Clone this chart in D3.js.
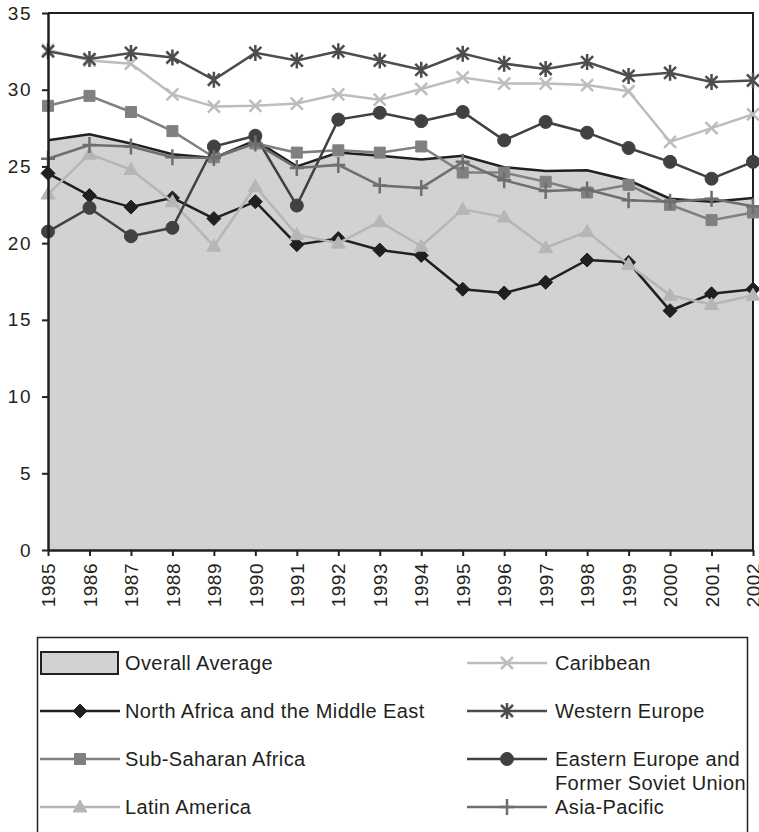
<!DOCTYPE html>
<html>
<head>
<meta charset="utf-8">
<script src="https://cdn.jsdelivr.net/npm/d3@7"></script>
<style>
  body { margin: 0; background: #fff; }
  svg { font-family: "Liberation Sans", Arial, sans-serif; }
</style>
</head>
<body>
<div class="container"></div>
<script>
const years = [1985, 1986, 1987, 1988, 1989, 1990, 1991, 1992, 1993, 1994, 1995, 1996, 1997, 1998, 1999, 2000, 2001, 2002];
const yTicks = [0, 5, 10, 15, 20, 25, 30, 35];

const overallAverage = [26.7, 27.1, 26.5, 25.8, 25.55, 26.7, 25.0, 25.9, 25.7, 25.45, 25.7, 24.95, 24.7, 24.75, 24.1, 22.9, 22.7, 22.95];
const northAfrica = [24.55, 23.1, 22.35, 22.95, 21.6, 22.7, 19.9, 20.3, 19.55, 19.2, 17.0, 16.75, 17.45, 18.9, 18.75, 15.6, 16.7, 17.0];
const subSaharan = [28.95, 29.6, 28.55, 27.3, 25.6, 26.5, 25.9, 26.05, 25.9, 26.3, 24.6, 24.6, 24.0, 23.3, 23.8, 22.5, 21.5, 22.0];
const latinAmerica = [23.2, 25.8, 24.8, 22.7, 19.8, 23.7, 20.55, 20.0, 21.4, 19.8, 22.2, 21.7, 19.7, 20.75, 18.6, 16.6, 16.0, 16.6];
const caribbean = [32.6, 31.9, 31.7, 29.7, 28.9, 28.95, 29.1, 29.7, 29.35, 30.05, 30.8, 30.4, 30.4, 30.3, 29.9, 26.6, 27.5, 28.4];
const westernEurope = [32.5, 32.0, 32.4, 32.1, 30.65, 32.4, 31.9, 32.5, 31.9, 31.3, 32.35, 31.7, 31.35, 31.8, 30.9, 31.1, 30.5, 30.6];
const easternEurope = [20.75, 22.3, 20.45, 21.0, 26.3, 27.0, 22.45, 28.05, 28.5, 27.95, 28.55, 26.7, 27.9, 27.2, 26.2, 25.3, 24.2, 25.3];
const asiaPacific = [25.5, 26.4, 26.3, 25.6, 25.55, 26.5, 24.9, 25.1, 23.75, 23.6, 25.3, 24.1, 23.4, 23.5, 22.8, 22.7, 22.9, 22.4];

const width = 759;
const height = 832;

const leftPadding = 48;
const rightPadding = 5;
const topPadding = 13;
const bottomPadding = 282;

const ink = '#231f20';

// marker shapes, drawn around 0,0
const marker = {
  diamond: 'M0,-7L7,0L0,7L-7,0Z',
  square: 'M-5.5,-5.5H5.5V5.5H-5.5Z',
  triangle: 'M0,-7L7,5H-7Z',
  circle: 'M6.5,0A6.5,6.5 0 1,1 -6.5,0A6.5,6.5 0 1,1 6.5,0Z',
  x: 'M-6,-6L6,6M-6,6L6,-6',
  star: 'M-6,-6L6,6M-6,6L6,-6M0,-8V8',
  plus: 'M-7,0H7M0,-8V8',
};

const series = [
  { name: 'North Africa and the Middle East', values: northAfrica, color: ink, shape: 'diamond', filled: true },
  { name: 'Sub-Saharan Africa', values: subSaharan, color: '#808082', shape: 'square', filled: true },
  { name: 'Latin America', values: latinAmerica, color: '#b5b6b8', shape: 'triangle', filled: true },
  { name: 'Caribbean', values: caribbean, color: '#bcbdbf', shape: 'x', filled: false },
  { name: 'Western Europe', values: westernEurope, color: '#4d4d4f', shape: 'star', filled: false },
  { name: 'Eastern Europe and|Former Soviet Union', values: easternEurope, color: '#414042', shape: 'circle', filled: true },
  { name: 'Asia-Pacific', values: asiaPacific, color: '#6d6e70', shape: 'plus', filled: false },
];

const x = d3.scaleLinear()
  .domain([d3.min(years), d3.max(years)])
  .range([leftPadding, width - rightPadding - 1]);
const y = d3.scaleLinear()
  .domain([0, 35])
  .range([height - bottomPadding, topPadding]);

const svg = d3.select('.container')
  .append('svg')
  .attr('width', width)
  .attr('height', height);

const area = d3.area()
  .x((d, i) => x(years[i]))
  .y0(y(0))
  .y1((d) => y(d));

const line = d3.line()
  .x((d, i) => x(years[i]))
  .y((d) => y(d));

svg.append('path')
  .datum(overallAverage)
  .attr('d', area)
  .attr('fill', '#d1d2d4');

svg.append('path')
  .datum(overallAverage)
  .attr('d', line)
  .attr('fill', 'none')
  .attr('stroke', ink)
  .attr('stroke-width', 2.5);

// frame top and right
svg.append('path')
  .attr('d', `M${x(1985)},${y(35)}H${x(2002)}V${y(0)}`)
  .attr('fill', 'none')
  .attr('stroke', ink)
  .attr('stroke-width', 2);

series.forEach((s) => {
  const g = svg.append('g');
  g.append('path')
    .datum(s.values)
    .attr('d', line)
    .attr('fill', 'none')
    .attr('stroke', s.color)
    .attr('stroke-width', 2.5);
  g.selectAll('path.mark')
    .data(s.values)
    .enter()
    .append('path')
    .attr('class', 'mark')
    .attr('d', marker[s.shape])
    .attr('transform', (d, i) => `translate(${x(years[i])},${y(d)})`)
    .attr('fill', s.filled ? s.color : 'none')
    .attr('stroke', s.color)
    .attr('stroke-width', s.filled ? 1 : 2.5);
});

const yAxis = d3.axisLeft(y).tickValues(yTicks).tickSize(6).tickPadding(10).tickSizeOuter(0);
const xAxis = d3.axisBottom(x).tickValues(years).tickFormat(d3.format('d')).tickSize(6).tickSizeOuter(0);

const gy = svg.append('g')
  .attr('transform', `translate(${leftPadding}, 0)`)
  .call(yAxis);

const gx = svg.append('g')
  .attr('transform', `translate(0, ${y(0)})`)
  .call(xAxis);

[gy, gx].forEach((g) => {
  g.select('.domain').attr('stroke', ink).attr('stroke-width', 2.5);
  g.selectAll('.tick line').attr('stroke', ink).attr('stroke-width', 2);
  g.selectAll('.tick text').attr('fill', ink).style('font-family', '"Liberation Sans", Arial, sans-serif');
});

gy.selectAll('.tick text')
  .style('font-size', '19px')
  .style('letter-spacing', '1.5px');

gx.selectAll('.tick text')
  .attr('transform', 'rotate(-90)')
  .attr('x', -13)
  .attr('y', 0)
  .attr('dy', '0.35em')
  .style('font-size', '19px')
  .style('letter-spacing', '0.5px')
  .style('text-anchor', 'end');

// legend
const legend = svg.append('g');
legend.append('rect')
  .attr('x', 37.5)
  .attr('y', 637.5)
  .attr('width', 710)
  .attr('height', 220)
  .attr('fill', 'none')
  .attr('stroke', ink)
  .attr('stroke-width', 1.5);

const rows = [663, 711, 759, 807];
const cols = [{ x0: 40, text: 125 }, { x0: 467, text: 555 }];

legend.append('rect')
  .attr('x', 41)
  .attr('y', 652)
  .attr('width', 77)
  .attr('height', 22)
  .attr('fill', '#d1d2d4')
  .attr('stroke', ink)
  .attr('stroke-width', 2);
legend.append('text')
  .attr('x', cols[0].text)
  .attr('y', rows[0])
  .attr('dy', '0.35em')
  .attr('fill', ink)
  .style('font-size', '20px')
  .style('letter-spacing', '0.4px')
  .text('Overall Average');

const slots = [
  [0, 1], [0, 2], [0, 3],
  [1, 0], [1, 1], [1, 2], [1, 3],
];

series.forEach((s, i) => {
  const col = cols[slots[i][0]];
  const cy = rows[slots[i][1]];
  const g = legend.append('g');
  g.append('line')
    .attr('x1', col.x0)
    .attr('x2', col.x0 + 80)
    .attr('y1', cy)
    .attr('y2', cy)
    .attr('stroke', s.color)
    .attr('stroke-width', 2.5);
  g.append('path')
    .attr('d', marker[s.shape])
    .attr('transform', `translate(${col.x0 + 40},${cy})`)
    .attr('fill', s.filled ? s.color : 'none')
    .attr('stroke', s.color)
    .attr('stroke-width', s.filled ? 1 : 2.5);
  g.selectAll('text')
    .data(s.name.split('|'))
    .enter()
    .append('text')
    .attr('x', col.text)
    .attr('y', (d, k) => cy + k * 24)
    .attr('dy', '0.35em')
    .attr('fill', ink)
    .style('font-size', '20px')
    .style('letter-spacing', '0.4px')
    .text((d) => d);
});
</script>
</body>
</html>
